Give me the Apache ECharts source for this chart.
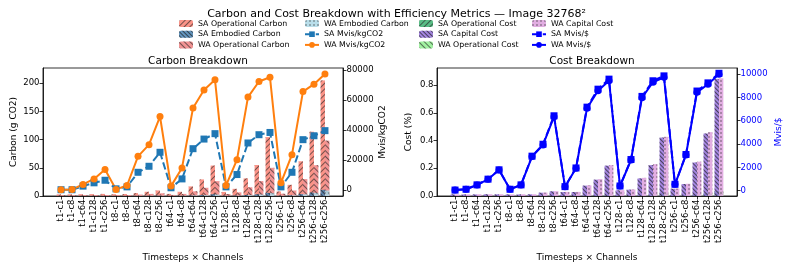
<!DOCTYPE html>
<html>
<head>
<meta charset="utf-8">
<script src="https://cdn.jsdelivr.net/npm/echarts@6/dist/echarts.min.js"></script>
<style>
html,body{margin:0;padding:0;background:#fff;}
#chart{width:793px;height:270px;}
</style>
</head>
<body>
<div id="chart"></div>
<script>
const categories = ['t1-c1','t1-c8','t1-c64','t1-c128','t1-c256',
  't8-c1','t8-c8','t8-c64','t8-c128','t8-c256',
  't64-c1','t64-c8','t64-c64','t64-c128','t64-c256',
  't128-c1','t128-c8','t128-c64','t128-c128','t128-c256',
  't256-c1','t256-c8','t256-c64','t256-c128','t256-c256'];

// Carbon (g CO2)
const saOpCarbon  = [2.9,3.0,3.2,3.4,3.7, 3.2,3.5,5.1,7.5,9.9, 3.7,7.5,17,29.4,54, 7.2,12.7,31.2,55,104.5, 8.0,19.8,61.6,114,205];
const saEmbCarbon = [0.3,0.3,0.3,0.3,0.3, 0.3,0.3,0.4,0.5,0.6, 0.3,0.5,1.0,1.6,3.0, 0.5,0.8,1.8,3.0,5.5, 0.5,1.2,3.4,6.0,11];
const waOpCarbon  = [1.5,1.5,1.6,1.7,1.8, 1.6,1.8,2.5,3.7,4.8, 1.9,3.7,8.3,14.6,26.4, 3.6,6.4,15.5,26.4,50, 4.0,9.8,30,54.6,98.2];
const waEmbCarbon = [0.2,0.2,0.2,0.2,0.2, 0.2,0.2,0.3,0.4,0.5, 0.2,0.4,0.9,1.4,2.6, 0.4,0.6,1.5,2.6,5.0, 0.4,1.0,3.0,5.4,9.8];
// Mvis/kgCO2
const saMvisCO2 = [300,300,2700,4900,6600, 900,2200,11900,15900,25200, 1600,7500,27600,34000,37600, 2200,10400,31400,36900,38400, 2200,11900,33600,36200,39600];
const waMvisCO2 = [300,500,3800,7500,13700, 500,3100,22500,30300,49000, 2700,14800,54600,66700,73400, 3100,20300,61900,72300,75100, 4900,23600,65600,70500,77300];

// Cost (%)
const saOpCost  = [0.0005,0.0005,0.0005,0.0005,0.0005, 0.0005,0.0005,0.0005,0.001,0.0014, 0.0012,0.0012,0.003,0.005,0.009, 0.0017,0.002,0.005,0.009,0.018, 0.0022,0.0036,0.01,0.019,0.035];
const saCapCost = [0.0115,0.0115,0.0115,0.0125,0.0125, 0.0115,0.0115,0.0125,0.024,0.0336, 0.0288,0.0288,0.075,0.118,0.219, 0.0413,0.046,0.127,0.223,0.422, 0.0528,0.0864,0.242,0.451,0.845];
const waOpCost  = [0.0005,0.0005,0.0005,0.0005,0.0005, 0.0005,0.0005,0.0005,0.001,0.0014, 0.0012,0.0012,0.003,0.005,0.009, 0.0018,0.002,0.005,0.01,0.018, 0.0022,0.0037,0.01,0.019,0.035];
const waCapCost = [0.0115,0.0115,0.0125,0.0125,0.0125, 0.0115,0.0125,0.0125,0.025,0.0346, 0.0298,0.0298,0.077,0.122,0.223, 0.0422,0.047,0.131,0.23,0.427, 0.0538,0.0883,0.248,0.461,0.85];
// Mvis/$
const saMvisUSD = [55,125,500,990,1790, 125,500,2960,3980,6420, 350,1950,7160,8700,9560, 405,2670,8080,9420,9840, 550,3100,8540,9240,10060];
const waMvisUSD = [50,120,490,975,1770, 120,490,2920,3920,6340, 345,1920,7060,8570,9430, 400,2630,7970,9290,9720, 545,3060,8430,9120,9970];

// tick labels
const carbonTicks = [0,50,100,150,200];
const co2EffTicks = [0,20000,40000,60000,80000];
const costTicks = [0,0.2,0.4,0.6,0.8];
const usdEffTicks = [0,2000,4000,6000,8000,10000];

const FONT = 'DejaVu Sans';
const idx = categories.map((_, i) => i);
const pts = arr => arr.map((v, i) => [i, v]);

function hatch(rot, color) {
  return { symbol: 'rect', symbolSize: 1, dashArrayX: [1, 0], dashArrayY: [1, 3],
           rotation: rot, color: color || 'rgba(40,40,40,0.75)' };
}
function dots(color) {
  return { symbol: 'circle', symbolSize: 0.8, dashArrayX: [[2, 2]], dashArrayY: [2, 2],
           color: color || 'rgba(40,40,40,0.8)' };
}
function xhatch(color) {
  return { symbol: 'rect', symbolSize: 1, dashArrayX: [1, 0], dashArrayY: [1, 2],
           rotation: Math.PI / 4, color: color || 'rgba(30,30,30,0.8)' };
}

const BW = 4.4;
function barSeries(name, data, color, decal, stack, xi, yi) {
  return { name, type: 'bar', data: pts(data), stack, xAxisIndex: xi, yAxisIndex: yi,
    barWidth: BW, barGap: '0%', z: 2,
    itemStyle: { color, opacity: 0.85, decal } };
}
function lineSeries(name, data, color, dashed, symbol, xi, yi) {
  return { name, type: 'line', data: pts(data), xAxisIndex: xi, yAxisIndex: yi, z: 5,
    symbol, symbolSize: 7, showSymbol: true,
    lineStyle: { color, width: 2, type: dashed ? [7.5, 3.3] : 'solid' },
    itemStyle: { color } };
}

function xAxisCfg(gi) {
  return {
    gridIndex: gi, type: 'value', min: -1.64, max: categories.length - 1 + 1.64,
    name: 'Timesteps × Channels', nameLocation: 'middle', nameGap: 57,
    nameTextStyle: { fontFamily: FONT, fontSize: 9, color: '#000' },
    axisLine: { show: true, onZero: false, lineStyle: { color: '#000', width: 0.8 } },
    axisTick: { show: true, length: 3.5, customValues: idx, lineStyle: { color: '#000', width: 0.8 } },
    axisLabel: { customValues: idx, rotate: 90, margin: 3.5, fontFamily: FONT, fontSize: 8.5, color: '#000',
      formatter: v => categories[Math.round(v)] || '' },
    splitLine: { show: false }
  };
}
function yAxisCfg(gi, pos, min, max, ticks, name, gap, color, fmt) {
  return {
    gridIndex: gi, type: 'value', position: pos, min, max,
    name, nameLocation: 'middle', nameGap: gap, nameRotate: 90,
    nameTextStyle: { fontFamily: FONT, fontSize: 9, color: color || '#000' },
    axisLine: { show: true, onZero: false, lineStyle: { color: '#000', width: 0.8 } },
    axisTick: { show: true, length: 3.5, customValues: ticks, lineStyle: { color: '#000', width: 0.8 } },
    axisLabel: { customValues: ticks, margin: 3.5, fontFamily: FONT, fontSize: 8.5, color: color || '#000',
      formatter: fmt || (v => String(v)) },
    splitLine: { show: false }
  };
}

function legendCfg(left, names) {
  return { data: names, orient: 'vertical', left, top: 19.5, itemWidth: 14, itemHeight: 7,
    itemGap: 2.7, itemTextGap: 8, padding: 0, selectedMode: false,
    textStyle: { fontFamily: FONT, fontSize: 7.8, color: '#000', lineHeight: 8 } };
}

const option = {
  animation: false,
  backgroundColor: '#fff',
  title: [
    { text: 'Carbon and Cost Breakdown with Efficiency Metrics — Image 32768²', left: 'center', top: 4,
      textStyle: { fontFamily: FONT, fontSize: 11, fontWeight: 'normal', color: '#000' } },
    { text: 'Carbon Breakdown', left: 193, top: 51, textAlign: 'center',
      textStyle: { fontFamily: FONT, fontSize: 10.5, fontWeight: 'normal', color: '#000' } },
    { text: 'Cost Breakdown', left: 587, top: 51, textAlign: 'center',
      textStyle: { fontFamily: FONT, fontSize: 10.5, fontWeight: 'normal', color: '#000' } }
  ],
  legend: [
    legendCfg(179, ['SA Operational Carbon', 'SA Embodied Carbon', 'WA Operational Carbon']),
    legendCfg(304, ['WA Embodied Carbon', 'SA Mvis/kgCO2', 'WA Mvis/kgCO2']),
    legendCfg(419, ['SA Operational Cost', 'SA Capital Cost', 'WA Operational Cost']),
    legendCfg(531, ['WA Capital Cost', 'SA Mvis/$', 'WA Mvis/$'])
  ],
  grid: [
    { left: 43, top: 68, width: 300, height: 128, show: true, borderColor: '#000', borderWidth: 0.8, backgroundColor: 'transparent' },
    { left: 437, top: 68, width: 300, height: 128, show: true, borderColor: '#000', borderWidth: 0.8, backgroundColor: 'transparent' }
  ],
  xAxis: [xAxisCfg(0), xAxisCfg(1)],
  yAxis: [
    yAxisCfg(0, 'left', 0, 227, carbonTicks, 'Carbon (g CO2)', 25),
    yAxisCfg(0, 'right', -3870, 81270, co2EffTicks, 'Mvis/kgCO2', 35),
    yAxisCfg(1, 'left', 0, 0.924, costTicks, 'Cost (%)', 24, null, v => v.toFixed(1)),
    yAxisCfg(1, 'right', -454, 10514, usdEffTicks, 'Mvis/$', 37, '#0000ff')
  ],
  series: [
    barSeries('SA Operational Carbon', saOpCarbon, '#fa8072', hatch(-Math.PI / 4), 'saC', 0, 0),
    barSeries('SA Embodied Carbon', saEmbCarbon, '#4682b4', xhatch(), 'saC', 0, 0),
    barSeries('WA Operational Carbon', waOpCarbon, '#f08080', hatch(Math.PI / 4), 'waC', 0, 0),
    barSeries('WA Embodied Carbon', waEmbCarbon, '#add8e6', dots(), 'waC', 0, 0),
    lineSeries('SA Mvis/kgCO2', saMvisCO2, '#1f77b4', true, 'rect', 0, 1),
    lineSeries('WA Mvis/kgCO2', waMvisCO2, '#ff7f0e', false, 'circle', 0, 1),
    barSeries('SA Operational Cost', saOpCost, '#3cb371', hatch(-Math.PI / 4), 'saK', 1, 2),
    barSeries('SA Capital Cost', saCapCost, '#9370db', xhatch(), 'saK', 1, 2),
    barSeries('WA Operational Cost', waOpCost, '#90ee90', hatch(Math.PI / 4), 'waK', 1, 2),
    barSeries('WA Capital Cost', waCapCost, '#dda0dd', dots(), 'waK', 1, 2),
    lineSeries('SA Mvis/$', saMvisUSD, '#0000ff', true, 'rect', 1, 3),
    lineSeries('WA Mvis/$', waMvisUSD, '#0000ff', false, 'circle', 1, 3)
  ]
};

const chart = echarts.init(document.getElementById('chart'), null, { renderer: 'canvas' });
chart.setOption(option);
</script>
</body>
</html>
